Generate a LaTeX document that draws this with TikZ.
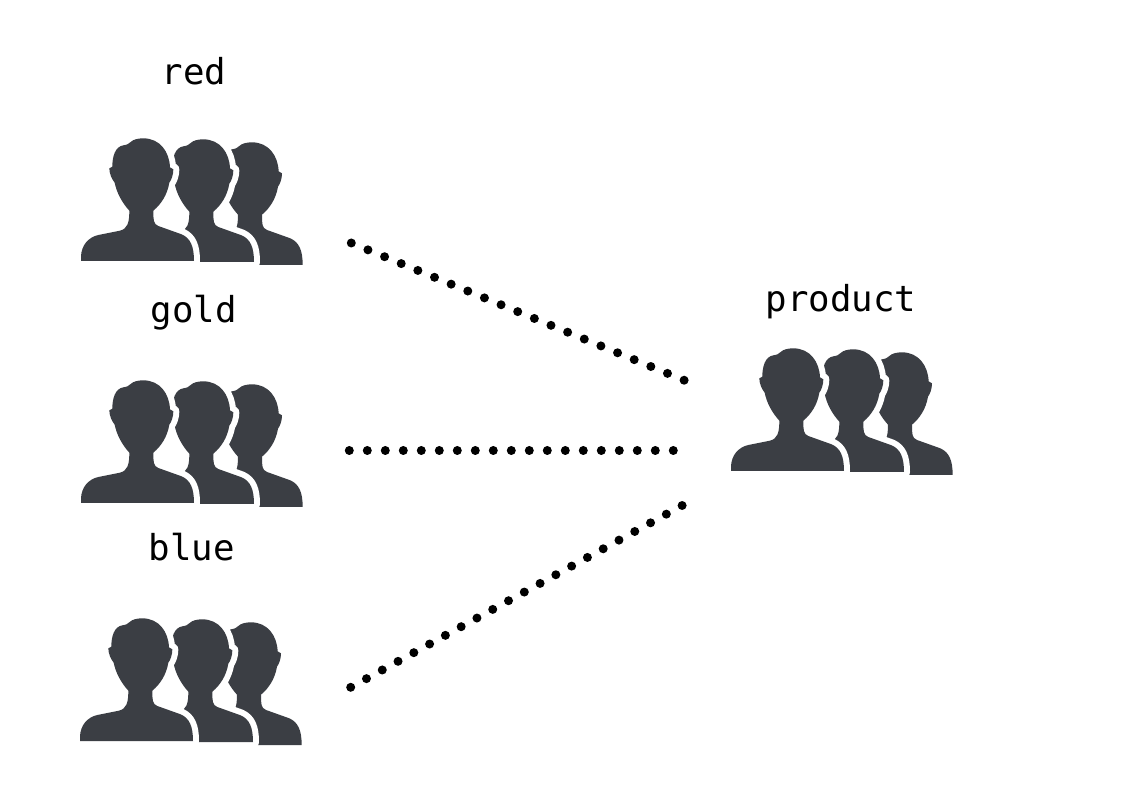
\documentclass[tikz,border=0pt]{standalone}
\usepackage{fontspec}
\setmonofont{DejaVu Sans Mono}
\usetikzlibrary{positioning,calc}
\definecolor{crowdgray}{HTML}{3B3E44}
\newcommand{\personpath}{(33,663) -- (33,648) .. controls (35,615) and (55,592) .. (85,585)
  -- (150,572) .. controls (172,566) and (178,550) .. (178,512)
  .. controls (156,488) and (140,458) .. (134,428) .. controls (125,417) and (118,400) .. (118,385)
  -- (127,380) .. controls (127,350) and (135,320) .. (160,316)
  .. controls (172,314) and (176,312) .. (182,306)
  .. controls (190,298) and (205,295) .. (220,295) .. controls (270,295) and (298,335) .. (300,382)
  -- (310,388) .. controls (310,405) and (304,420) .. (298,428)
  .. controls (292,464) and (274,492) .. (250,512) .. controls (250,540) and (250,552) .. (265,558)
  -- (335,583) .. controls (362,595) and (372,620) .. (372,663) -- cycle}
\newcommand{\oneperson}[2]{%
  \begin{scope}[x=0.25pt,y=-0.25pt,shift={(#1-33,#2-663)}]
    \fill[white,draw=white,line width=9pt,line join=round] \personpath;
    \fill[crowdgray] \personpath;
  \end{scope}}
\tikzset{
  crowd/.pic={
    \oneperson{326}{12}
    \oneperson{180}{3}
    \oneperson{0}{0}
  },
  crowdpos/.style={coordinate},
  grouplbl/.style={font=\ttfamily\fontsize{26.8pt}{30pt}\selectfont,anchor=base,inner sep=0pt},
  dotline/.style={line width=6.75pt,line cap=round,dash pattern=on 0pt off 13.5pt}
}
\begin{document}
\begin{tikzpicture}[x=0.75pt,y=-0.75pt]
\useasboundingbox (0,0) rectangle (1122,805);
\node [crowdpos] (red) at (81,261) {};
\node [crowdpos] (gold) at (81,503) {};
\node [crowdpos] (blue) at (80,741) {};
\node [crowdpos] (product) at (731,471) {};
\pic at (red) {crowd};
\pic at (gold) {crowd};
\pic at (blue) {crowd};
\pic at (product) {crowd};
\node [grouplbl] (redlbl) at (194,85) {red};
\node [grouplbl] (goldlbl) at (194,323) {gold};
\node [grouplbl] (bluelbl) at (192,561) {blue};
\node [grouplbl] (productlbl) at (841,312) {product};
\coordinate (redout) at (351.3,243);
\coordinate (goldout) at (349.3,450.5);
\coordinate (blueout) at (350.7,687.3);
\coordinate (redin) at (685,380.6);
\coordinate (goldin) at (674,450.5);
\coordinate (bluein) at (682.3,505.4);
\draw [dotline] (redout) -- (redin);
\draw [dotline] (goldout) -- (goldin);
\draw [dotline] (blueout) -- (bluein);
\end{tikzpicture}
\end{document}
